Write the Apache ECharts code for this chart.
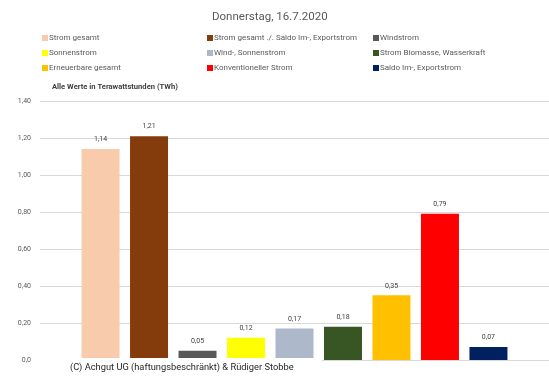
<!DOCTYPE html>
<html><head><meta charset="utf-8">
<script src="https://cdn.jsdelivr.net/npm/echarts@6/dist/echarts.min.js"></script>
<style>html,body{margin:0;padding:0;background:#fff}#c{width:549px;height:382px}</style>
</head><body><div id="c"></div>
<script>
const seriesNames = ['Strom gesamt','Strom gesamt ./. Saldo Im-, Exportstrom','Windstrom','Sonnenstrom','Wind-, Sonnenstrom','Strom Biomasse, Wasserkraft','Erneuerbare gesamt','Konventioneller Strom','Saldo Im-, Exportstrom'];
const values = [1.14,1.21,0.05,0.12,0.17,0.18,0.35,0.79,0.07];
const colors = ['#F8CBAD','#843C0C','#595959','#FFFF00','#ADB9CA','#375623','#FFC000','#FF0000','#002060'];
const yTickLabels = {'0':'0,0','0.2':'0,20','0.4':'0,40','0.6':'0,60','0.8':'0,80','1':'1,00','1.2':'1,20','1.4':'1,40'};
const categories = [''];

const FONT = 'Roboto';
const chart = echarts.init(document.getElementById('c'));
const legendCols = [0,1,2].map(c => seriesNames.filter((_, i) => i % 3 === c));
const legendLefts = [42, 207, 373];
chart.setOption({
  animation:false,
  textStyle:{fontFamily:FONT},
  title:{text:'Donnerstag, 16.7.2020', left:207, top:6,
    textStyle:{fontFamily:FONT,fontSize:11.5,fontWeight:'normal',color:'#595959'}},
  legend: legendCols.map((d, k) => ({
    data:d, orient:'vertical', left:legendLefts[k], top:33, itemWidth:6, itemHeight:6,
    itemGap:5, icon:'rect', padding:0,
    textStyle:{fontFamily:FONT,fontSize:8,lineHeight:10,color:'#595959', padding:[0,0,0,-4]}
  })),
  grid:{left:40,right:0,top:101,bottom:22},
  xAxis:{type:'category',data:categories,axisTick:{show:false},axisLabel:{show:false},
    axisLine:{lineStyle:{color:'#d9d9d9'}}},
  yAxis:{type:'value',min:0,max:1.4,interval:0.2,
    axisLabel:{fontFamily:FONT,fontSize:7,color:'#595959',margin:9,
      formatter:v=>yTickLabels[String(Math.round(v*10)/10)] ?? String(v)},
    splitLine:{lineStyle:{color:'#d9d9d9'}},axisLine:{show:false},axisTick:{show:false}},
  series: seriesNames.map((n,i)=>({
    name:n,type:'bar',data:[values[i]],barWidth:38,barGap:'27.6%',
    itemStyle:{color:colors[i]},
    label:{show:true,position:'top',distance:6,fontFamily:FONT,fontSize:7,color:'#404040',
      formatter:p=>p.value.toFixed(2).replace('.',',')}
  })),
  graphic:[
    {type:'rect',shape:{x:38,y:358,width:284,height:22},style:{fill:'#fff'},z:100},
    {type:'text',left:70,top:363,z:101,style:{text:'(C) Achgut UG (haftungsbeschränkt) & Rüdiger Stobbe',
      font:'9.3px Roboto',fill:'#262626'}},
    {type:'text',left:52,top:83,z:101,style:{text:'Alle Werte in Terawattstunden (TWh)',
      font:'bold 7.6px Roboto',fill:'#404040'}}
  ]
});
</script></body></html>
